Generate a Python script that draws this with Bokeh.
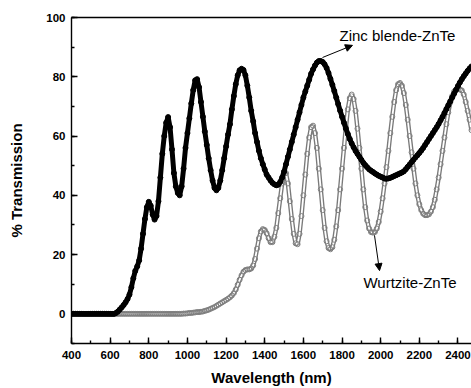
from bokeh.plotting import figure
from bokeh.models import (Range1d, SingleIntervalTicker, LinearAxis, FixedTicker,
                          Arrow, NormalHead, Label, ColumnDataSource)
from bokeh.embed import file_html
from bokeh.resources import INLINE

# ---------------- data ----------------
wavelength = list(range(400, 2480, 10))   # nm, sampling grid

zinc_blende = [
    0, 0, 0, 0, 0, 0, 0, 0, 0, 0,                                   # 400
    0, 0, 0, 0, 0, 0, 0, 0, 0, 0,                                   # 500
    0, 0, 0, 0.3, 0.8, 1.5, 2.2, 3, 3.9, 5,                         # 600
    6.5, 9, 12, 14.5, 16, 18, 22, 27, 32, 36,                       # 700
    37.8, 36.5, 33.5, 31.8, 33, 38, 46, 54, 60, 64.5,               # 800
    66.4, 63, 55.5, 47.5, 43, 40.8, 40, 43, 49, 56,                 # 900
    61, 66, 71, 75.5, 78.8, 79.2, 76.5, 71.5, 66.5, 61.5,           # 1000
    57, 52.5, 48.5, 45, 42.5, 41.7, 42.5, 45, 48.5, 52.5,           # 1100
    56.5, 60.5, 64, 69, 73.5, 77.5, 80.5, 82.2, 82.7, 82.3,         # 1200
    80.5, 77, 73, 68.5, 65, 61, 58, 55, 52.5, 50.5,                 # 1300
    48.7, 47, 46, 45, 44.2, 43.7, 43.4, 43.6, 44.5, 46,             # 1400
    48, 50.5, 53, 55.5, 58, 60.5, 63, 65.5, 68, 70.5,               # 1500
    73, 75, 77, 79, 81, 82.5, 83.8, 84.8, 85.3, 85.3,               # 1600
    85, 84.2, 83, 81.3, 79.3, 77.3, 75.2, 73, 70.8, 68.6,           # 1700
    66.5, 64.5, 62.5, 60.7, 59, 57.5, 56.2, 55, 54, 53,             # 1800
    52, 51, 50.2, 49.5, 48.8, 48.3, 47.9, 47.4, 47, 46.6,           # 1900
    46.3, 46.0, 45.7, 45.6, 45.7, 45.9, 46.2, 46.5, 46.8, 47.1,     # 2000
    47.4, 47.7, 48.1, 48.8, 49.6, 50.4, 51.2, 52, 52.8, 53.5,       # 2100
    54.3, 55.1, 56, 57, 58, 59, 60, 61, 62, 63,                     # 2200
    64.1, 65.3, 66.5, 67.8, 69.1, 70.4, 71.7, 73, 74.3, 75.6,       # 2300
    76.9, 78.1, 79.2, 80.2, 81.1, 82, 82.8, 83.5,                   # 2400
]

wurtzite = [
    0, 0, 0, 0, 0, 0, 0, 0, 0, 0,                                   # 400
    0, 0, 0, 0, 0, 0, 0, 0, 0, 0,                                   # 500
    0, 0, 0, 0, 0, 0, 0, 0, 0, 0,                                   # 600
    0, 0, 0, 0, 0, 0, 0, 0, 0, 0,                                   # 700
    0, 0, 0, 0, 0, 0, 0, 0, 0, 0,                                   # 800
    0, 0, 0, 0, 0, 0, 0, 0, 0.1, 0.1,                               # 900
    0.2, 0.3, 0.3, 0.4, 0.5, 0.6, 0.6, 0.7, 0.8, 1.0,               # 1000
    1.2, 1.4, 1.7, 2.0, 2.3, 2.7, 3.1, 3.5, 3.9, 4.3,               # 1100
    4.7, 5.1, 5.6, 6.2, 7, 8.2, 9.8, 11.5, 13, 14.2,                # 1200
    14.8, 15, 15, 15.3, 16.3, 18.5, 22, 25.5, 27.8, 28.6,           # 1300
    28.3, 27.2, 25.5, 24.2, 24.2, 26, 29, 34, 39, 44,               # 1400
    47.5, 47.5, 44, 38, 32, 27, 23.8, 23.5, 27, 33,                 # 1500
    40, 47, 54, 59.5, 63, 63.5, 61, 56, 49, 42,                     # 1600
    35, 29, 24.5, 22.2, 21.8, 22.5, 25, 29.5, 35, 42,               # 1700
    49, 56, 63, 69, 72.8, 74, 72.5, 68.5, 62.5, 56,                 # 1800
    49, 42, 36, 31.5, 28.8, 27.6, 27.4, 27.6, 28.8, 31,             # 1900
    34.5, 39, 44, 49.5, 55, 61, 66.5, 71.5, 75.5, 77.5,             # 2000
    77.9, 77, 74.5, 70.5, 65.5, 60, 54.5, 49, 44, 40,               # 2100
    37, 35, 33.8, 33.3, 33.3, 33.6, 34.5, 36, 38.5, 42,             # 2200
    46, 50.5, 55, 59.5, 64, 68, 71.3, 73.5, 75, 75.6,               # 2300
    75.8, 75.7, 75.4, 74, 71.5, 68.5, 65.5, 62,                     # 2400
]

x_ticks_interval = 200
y_ticks_interval = 20

label_zb = "Zinc blende-ZnTe"
label_wz = "Wurtzite-ZnTe"
label_zb_pos = (1787, 93.9)
label_wz_pos = (1911, 10.6)
arrow_zb = (1699, 86.5, 1854, 90.6)
arrow_wz = (1968, 26.5, 1994, 14.6)

assert len(wavelength) == len(zinc_blende) == len(wurtzite)

src = ColumnDataSource(dict(wl=wavelength, zb=zinc_blende, wz=wurtzite))

FONT = "Liberation Sans"

p = figure(width=471, height=388, output_backend="svg", toolbar_location=None,
           x_range=Range1d(400, 2470), y_range=Range1d(-10, 100),
           min_border_left=71, min_border_right=0, min_border_top=17,
           min_border_bottom=45,
           x_axis_label="Wavelength (nm)", y_axis_label="% Transmission")
p.grid.visible = False
p.outline_line_color = None
p.background_fill_color = "white"
p.border_fill_color = "white"

p.xaxis.ticker = SingleIntervalTicker(interval=x_ticks_interval, num_minor_ticks=2)
p.yaxis.ticker = SingleIntervalTicker(interval=y_ticks_interval, num_minor_ticks=2)

for ax in (p.xaxis[0], p.yaxis[0]):
    ax.axis_line_width = 1.4
    ax.major_tick_line_width = 1.4
    ax.minor_tick_line_width = 1.4
    ax.major_tick_in = 6
    ax.major_tick_out = 0
    ax.minor_tick_in = 3
    ax.minor_tick_out = 0
    ax.major_label_text_font = FONT
    ax.major_label_text_font_style = "bold"
    ax.major_label_text_font_size = "11.5px"
    ax.major_label_text_color = "black"
    ax.axis_label_text_font = FONT
    ax.axis_label_text_font_style = "bold"
    ax.axis_label_text_font_size = "15px"
    ax.axis_label_text_color = "black"

p.yaxis.major_label_standoff = 6
p.yaxis.axis_label_standoff = 18
p.xaxis.major_label_standoff = 7
p.xaxis.axis_label_standoff = 7

top = LinearAxis(ticker=FixedTicker(ticks=[]), major_label_text_font_size="0px",
                 axis_line_width=1.4, major_tick_in=0, major_tick_out=0,
                 minor_tick_in=0, minor_tick_out=0)
p.add_layout(top, "above")

# Wurtzite: open-circle chain
p.line("wl", "wz", source=src, line_color="#7a7a7a", line_width=4.5)
p.line("wl", "wz", source=src, line_color="white", line_width=1.8)
p.scatter("wl", "wz", source=src, marker="circle", size=5, fill_color=None,
          line_color="#808080", line_width=1)

# Zinc blende: filled black dots
p.line("wl", "zb", source=src, line_color="black", line_width=5)
p.scatter("wl", "zb", source=src, marker="circle", size=5, color="black")

p.add_layout(Arrow(end=NormalHead(size=7, fill_color="black", line_color="black"),
                   x_start=arrow_zb[0], y_start=arrow_zb[1],
                   x_end=arrow_zb[2], y_end=arrow_zb[3],
                   line_width=1, line_color="black"))
p.add_layout(Arrow(end=NormalHead(size=7, fill_color="black", line_color="black"),
                   x_start=arrow_wz[0], y_start=arrow_wz[1],
                   x_end=arrow_wz[2], y_end=arrow_wz[3],
                   line_width=1, line_color="black"))

p.add_layout(Label(x=label_zb_pos[0], y=label_zb_pos[1], text=label_zb,
                   text_baseline="middle", text_font=FONT, text_font_size="15px",
                   text_color="black"))
p.add_layout(Label(x=label_wz_pos[0], y=label_wz_pos[1], text=label_wz,
                   text_baseline="middle", text_font=FONT, text_font_size="15px",
                   text_color="black"))

open("out.html", "w").write(file_html(p, INLINE))
